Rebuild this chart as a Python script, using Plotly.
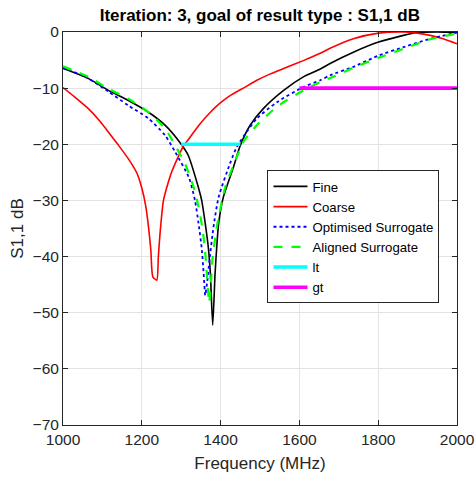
import plotly.graph_objects as go

# ---- data ----
fine_f = [1000, 1065, 1115, 1166, 1217, 1259, 1300, 1318, 1340, 1352, 1361, 1369, 1374, 1380,
          1386, 1391, 1395, 1407, 1433, 1450, 1475, 1509, 1560, 1610, 1653, 1678, 1737,
          1801, 1864, 1898, 1950, 2000]
fine_db = [-6.5, -8.3, -10.4, -12.2, -14.3, -16.6, -20.0, -22.0, -26.8, -30.0, -34.1, -38.5, -43.0, -52.2,
           -43.0, -37.5, -34.1, -29.4, -24.0, -20.2, -16.6, -13.6, -10.4, -8.0, -6.6, -5.6, -3.6,
           -1.8, -0.6, -0.1, 0.0, -0.1]

coarse_f = [1000, 1030, 1065, 1090, 1115, 1140, 1166, 1188, 1200, 1210, 1217, 1223, 1228, 1238, 1242,
            1247, 1255, 1268, 1276, 1290, 1305, 1323, 1345, 1374, 1400, 1425, 1460, 1492, 1525, 1560,
            1610, 1653, 1678, 1737, 1801, 1864, 1900, 1932, 1965, 2000]
coarse_db = [-9.9, -11.6, -13.7, -15.6, -17.8, -20.1, -22.6, -25.2, -27.8, -31.0, -34.7, -38.9, -43.6, -44.2, -40.0,
             -35.3, -30.0, -26.6, -24.9, -22.6, -20.4, -18.7, -16.6, -14.3, -12.6, -11.3, -9.9, -8.6, -7.5, -6.5,
             -5.1, -3.8, -2.9, -1.2, -0.2, 0.0, -0.2, -0.6, -1.2, -2.1]

opt_f = [1000, 1065, 1115, 1166, 1217, 1259, 1285, 1320, 1335, 1344, 1352, 1357, 1361, 1366, 1372,
         1382, 1395, 1424, 1441, 1458, 1492, 1543, 1610, 1653, 1678, 1737, 1801,
         1864, 1932, 2000]
opt_db = [-6.3, -8.3, -10.6, -13.1, -15.4, -18.4, -21.4, -26.0, -30.0, -34.1, -38.5, -43.0, -46.9, -44.5, -40.5,
          -34.7, -29.4, -23.4, -20.5, -18.6, -15.4, -12.5, -9.8, -8.6, -7.7, -6.2, -4.2,
          -2.7, -1.2, -0.1]

ali_f = [1000, 1065, 1115, 1166, 1217, 1259, 1291, 1310, 1331, 1343, 1353, 1360, 1365, 1371,
         1376, 1380, 1392, 1412, 1441, 1460, 1492, 1543, 1610, 1653, 1678, 1737, 1801,
         1864, 1932, 2000]
ali_db = [-6.1, -8.0, -10.1, -11.9, -14.3, -17.2, -21.0, -23.5, -27.5, -30.8, -34.6, -38.5, -43.0, -48.3,
          -44.0, -40.0, -34.1, -27.6, -22.3, -19.3, -16.6, -13.3, -10.4, -8.9, -8.2, -6.4, -4.6,
          -3.0, -1.3, -0.3]

lt_f = [1300, 1450]
lt_db = [-20, -20]
gt_f = [1600, 2000]
gt_db = [-10, -10]

x_ticks = [1000, 1200, 1400, 1600, 1800, 2000]
y_ticks = [0, -10, -20, -30, -40, -50, -60, -70]

FONT = "Liberation Sans, Arial, sans-serif"
AX = "#262626"

fig = go.Figure()
fig.add_trace(go.Scatter(x=fine_f, y=fine_db, mode="lines", name="Fine",
                         line=dict(color="black", width=1.6, shape="spline", smoothing=0.6)))
fig.add_trace(go.Scatter(x=coarse_f, y=coarse_db, mode="lines", name="Coarse",
                         line=dict(color="#ff0000", width=1.6, shape="spline", smoothing=0.6)))
fig.add_trace(go.Scatter(x=opt_f, y=opt_db, mode="lines", name="Optimised Surrogate",
                         line=dict(color="#0000ff", width=1.8, dash="dot", shape="spline", smoothing=0.6)))
fig.add_trace(go.Scatter(x=ali_f, y=ali_db, mode="lines", name="Aligned Surrogate",
                         line=dict(color="#00ff00", width=2.2, dash="dash", shape="spline", smoothing=0.6)))
fig.add_trace(go.Scatter(x=lt_f, y=lt_db, mode="lines", name="lt",
                         line=dict(color="#00ffff", width=3.6)))
fig.add_trace(go.Scatter(x=gt_f, y=gt_db, mode="lines", name="gt",
                         line=dict(color="#ff00ff", width=3.6)))

axis_common = dict(
    showline=True, linecolor=AX, linewidth=1, mirror="ticks",
    ticks="inside", ticklen=5, tickcolor=AX, tickwidth=1,
    showgrid=True, gridcolor="#e3e3e3", gridwidth=1, zeroline=False,
    tickfont=dict(family=FONT, size=15.5, color=AX),
    automargin=False,
)

fig.update_layout(
    width=475, height=478,
    margin=dict(l=63, r=18, t=32, b=53),
    paper_bgcolor="white", plot_bgcolor="white",
    font=dict(family=FONT, color=AX),
    title=dict(text="<b>Iteration: 3, goal of result type : S1,1 dB</b>",
               x=0.547, xanchor="center", y=0.968, yanchor="middle",
               font=dict(family=FONT, size=17, color="black")),
    xaxis=dict(range=[1000, 2000], tickvals=x_ticks,
               title=dict(text="Frequency (MHz)", font=dict(family=FONT, size=17, color=AX),
                          standoff=10),
               **axis_common),
    yaxis=dict(range=[-70, 0], tickvals=y_ticks,
               title=dict(text="S1,1 dB", font=dict(family=FONT, size=17, color=AX),
                          standoff=4),
               **axis_common),
    legend=dict(x=0.519, y=0.648, xanchor="left", yanchor="top",
                bgcolor="white", bordercolor=AX, borderwidth=1,
                font=dict(family=FONT, size=13.2, color="black"),
                itemwidth=34, tracegroupgap=0),
    showlegend=True,
)

fig.write_html("out.html")
